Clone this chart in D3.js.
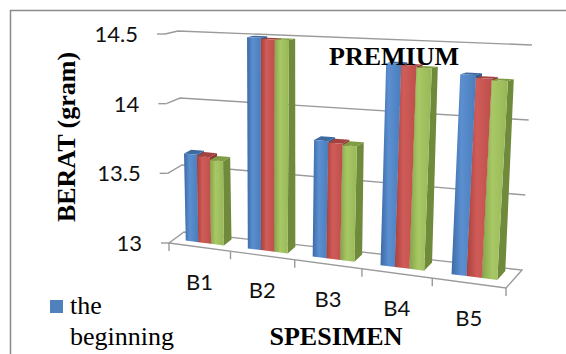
<!DOCTYPE html>
<html>
<head>
<meta charset="utf-8">
<script src="https://cdn.jsdelivr.net/npm/d3@7"></script>
<style>
  html, body { margin: 0; padding: 0; background: #fff; }
  svg { display: block; }
</style>
</head>
<body>
<script>
// ---- data ----
const categories = ["B1", "B2", "B3", "B4", "B5"];
const beginning = [13.63, 14.49, 13.80, 14.35, 14.30];
const series2   = [13.62, 14.48, 13.79, 14.34, 14.28];
const series3   = [13.60, 14.48, 13.78, 14.33, 14.27];
const yTicks = [13, 13.5, 14, 14.5];
const yTickLabels = ["13", "13.5", "14", "14.5"];
const legendLabel = ["the", "beginning"];

const W = 566, H = 354;
const svg = d3.select("body").append("svg").attr("width", W).attr("height", H);

// ---- 3D box projection (category coordinate, depth, value) ----
const uScale = d3.scaleLinear().domain([0, categories.length]).range([0, 1]);
const vScale = d3.scaleLinear().domain([13, 14.5]).range([0, 1]);
const box = {
  f0: [[169, 243], [506, 288]],  // front plane, value 13 (left, right)
  f1: [[165, 34],  [521, 46]],   // front plane, value 14.5
  b0: [[184, 232], [522, 270]],  // back plane, value 13
  b1: [[178, 31],  [532, 45]]    // back plane, value 14.5
};
const persp = 1.12;
const warp = u => u / (u + persp * (1 - u));
const lerp = (a, b, s) => [a[0] + (b[0] - a[0]) * s, a[1] + (b[1] - a[1]) * s];
function proj(c, d, v) {
  const w = warp(uScale(c)), t = vScale(v);
  const edge = e => lerp(e[0], e[1], w);
  const front = lerp(edge(box.f0), edge(box.f1), t);
  const back = lerp(edge(box.b0), edge(box.b1), t);
  return lerp(front, back, d);
}
const line = d3.line();

// ---- outer frame ----
svg.append("rect").attr("x", 10.5).attr("y", 10.5).attr("width", 620).attr("height", 420)
  .attr("fill", "none").attr("stroke", "#8a8a8a").attr("stroke-width", 1.5);

// ---- walls and floor ----
const gridColor = "#9a9a9a";
const walls = svg.append("g").attr("fill", "none").attr("stroke", gridColor).attr("stroke-width", 1.4);
yTicks.forEach(v => {
  if (v === 13) return;
  walls.append("path").attr("d", line([proj(0, 0, v), proj(0, 1, v), proj(categories.length, 1, v)]));
});
walls.append("path").attr("d", line([
  proj(0, 0, 13), proj(categories.length, 0, 13),
  proj(categories.length, 1, 13), proj(0, 1, 13)
]) + "Z");

// ---- bars ----
const series = [
  { values: beginning, front: ["#3c6aa6", "#5b8fd0", "#4a7dbb"], side: "#345a8c", top: "#3f6aa0" },
  { values: series2,   front: ["#a9403d", "#d05c58", "#be4f4c"], side: "#8e3532", top: "#a4423f" },
  { values: series3,   front: ["#86a448", "#a8c866", "#98b857"], side: "#6f8a3a", top: "#7f9b43" }
];
const defs = svg.append("defs");
series.forEach((s, j) => {
  const g = defs.append("linearGradient").attr("id", "grad" + j)
    .attr("x1", "0%").attr("x2", "100%").attr("y1", "0%").attr("y2", "0%");
  g.append("stop").attr("offset", "0%").attr("stop-color", s.front[0]);
  g.append("stop").attr("offset", "40%").attr("stop-color", s.front[1]);
  g.append("stop").attr("offset", "100%").attr("stop-color", s.front[2]);
});

const groupFrac = 0.62, d0 = 0.35, d1 = 0.85;
const barW = groupFrac / series.length;
const bars = svg.append("g");
categories.forEach((cat, i) => {
  series.forEach((s, j) => {
    const v = s.values[i];
    const c0 = i + (1 - groupFrac) / 2 + j * barW, c1 = c0 + barW;
    const g = bars.append("g");
    g.append("path").attr("fill", s.side)
      .attr("d", line([proj(c1, d0, 13), proj(c1, d1, 13), proj(c1, d1, v), proj(c1, d0, v)]) + "Z");
    g.append("path").attr("fill", s.top)
      .attr("d", line([proj(c0, d0, v), proj(c1, d0, v), proj(c1, d1, v), proj(c0, d1, v)]) + "Z");
    g.append("path").attr("fill", `url(#grad${j})`)
      .attr("d", line([proj(c0, d0, 13), proj(c1, d0, 13), proj(c1, d0, v), proj(c0, d0, v)]) + "Z");
  });
});

// ---- value axis ticks and labels ----
const tickFont = "Lato, 'Open Sans', sans-serif";
const yAxis = svg.append("g");
yTicks.forEach((v, k) => {
  const p = proj(0, 0, v);
  yAxis.append("line").attr("x1", p[0] - 8).attr("x2", p[0]).attr("y1", p[1]).attr("y2", p[1])
    .attr("stroke", gridColor).attr("stroke-width", 1.4);
  yAxis.append("text").attr("x", p[0] - 27).attr("y", p[1]).attr("dy", "0.36em")
    .attr("text-anchor", "end").attr("font-family", tickFont).attr("font-size", 22)
    .attr("fill", "#111").text(yTickLabels[k]);
});

// ---- category ticks and labels ----
const xAxis = svg.append("g");
d3.range(categories.length + 1).forEach(c => {
  const p = proj(c, 0, 13);
  xAxis.append("line").attr("x1", p[0]).attr("x2", p[0]).attr("y1", p[1]).attr("y2", p[1] + 8)
    .attr("stroke", gridColor).attr("stroke-width", 1.4);
});
categories.forEach((cat, i) => {
  const p = proj(i + 0.5, 0, 13);
  xAxis.append("text").attr("x", p[0]).attr("y", p[1] + 35).attr("dy", "0.36em")
    .attr("text-anchor", "middle").attr("font-family", tickFont).attr("font-size", 22)
    .attr("fill", "#111").text(cat);
});

// ---- titles ----
const serif = "'Liberation Serif', 'Times New Roman', serif";
svg.append("text").attr("transform", "translate(75,137) rotate(-90)")
  .attr("text-anchor", "middle").attr("font-family", serif).attr("font-weight", "bold")
  .attr("font-size", 26).attr("fill", "#000").text("BERAT (gram)");
svg.append("text").attr("x", 336).attr("y", 345)
  .attr("text-anchor", "middle").attr("font-family", serif).attr("font-weight", "bold")
  .attr("font-size", 26).attr("fill", "#000").text("SPESIMEN");
svg.append("text").attr("x", 394).attr("y", 65)
  .attr("text-anchor", "middle").attr("font-family", serif).attr("font-weight", "bold")
  .attr("font-size", 26).attr("fill", "#000").text("PREMIUM");

// ---- legend ----
const legend = svg.append("g");
legend.append("rect").attr("x", 50).attr("y", 300).attr("width", 13).attr("height", 13)
  .attr("fill", "#4f81bd");
legend.append("text").attr("x", 70).attr("y", 314).attr("font-family", serif)
  .attr("font-size", 26).attr("fill", "#000").text(legendLabel[0]);
legend.append("text").attr("x", 70).attr("y", 345).attr("font-family", serif)
  .attr("font-size", 26).attr("fill", "#000").text(legendLabel[1]);
</script>
</body>
</html>
